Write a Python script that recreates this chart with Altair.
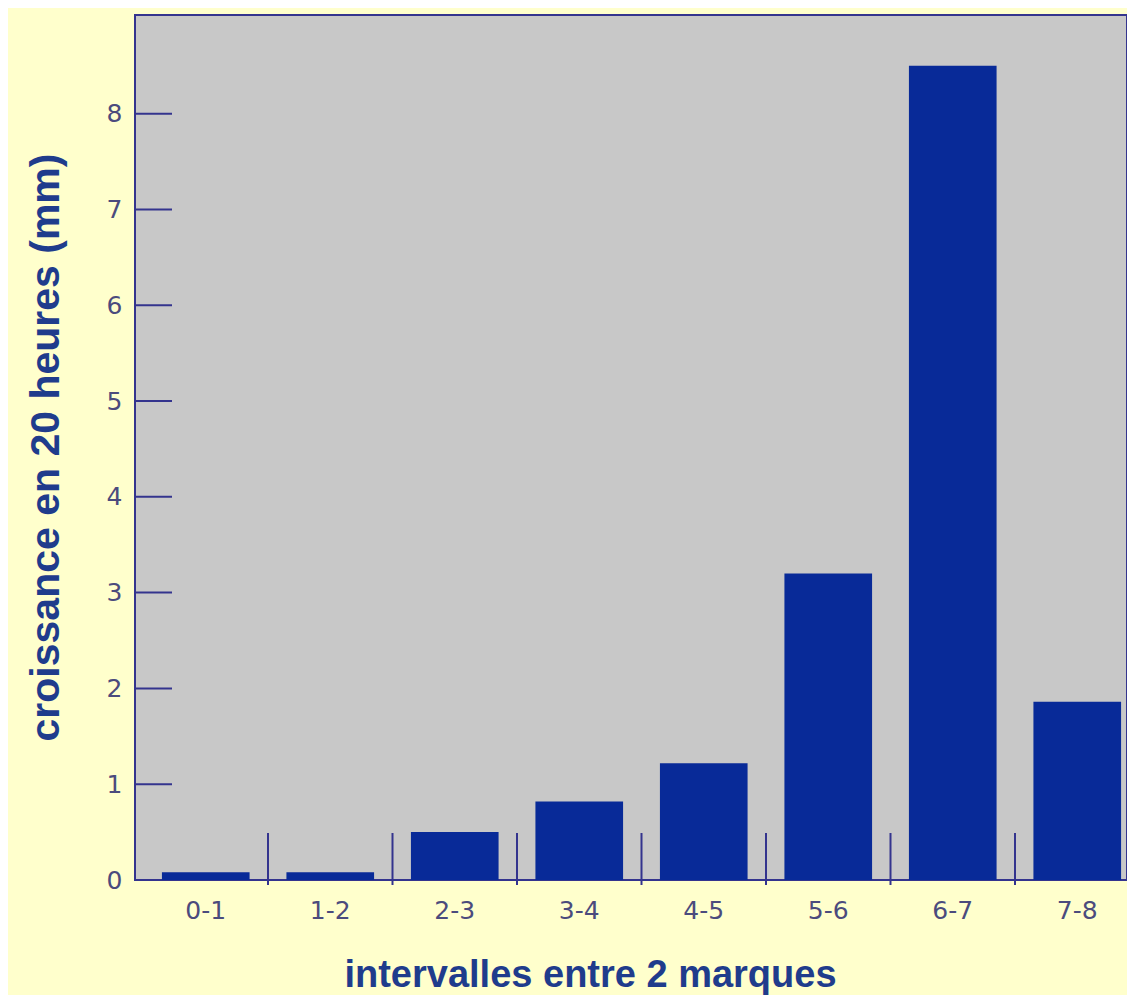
import altair as alt
import pandas as pd

# ---- data ----
categories = ["0-1", "1-2", "2-3", "3-4", "4-5", "5-6", "6-7", "7-8"]
values = [0.08, 0.08, 0.5, 0.82, 1.22, 3.2, 8.5, 1.86]
y_tick_values = [0, 1, 2, 3, 4, 5, 6, 7, 8]
x_title = "intervalles entre 2 marques"
y_title = "croissance en 20 heures (mm)"

bars_df = pd.DataFrame({"intervalle": categories, "croissance": values})
sep_df = pd.DataFrame({"intervalle": categories[1:]})
tick_df = pd.DataFrame({"v": y_tick_values[1:]})

# ---- style ----
BG = "#FFFFCC"
PLOT = "#C8C8C8"
BAR = "#082A98"
AX = "#34348E"
LBL = "#4B4B7D"
TTL = "#1F3C8C"

W, H = 992, 865
x_range = [8.5, 1004.5]
y_scale = alt.Scale(domain=[0, 9.03], nice=False, zero=True)

bars = alt.Chart(bars_df).mark_bar(color=BAR).encode(
    x=alt.X(
        "intervalle:N",
        sort=categories,
        scale=alt.Scale(range=x_range, paddingInner=0.296, paddingOuter=0.148),
        axis=alt.Axis(
            title=x_title,
            labelAngle=0,
            ticks=False,
            tickSize=0,
            domain=False,
            grid=False,
            labelFont="DejaVu Sans",
            labelFontSize=25,
            labelColor=LBL,
            labelPadding=18,
            titleFont="Liberation Sans",
            titleFontWeight="bold",
            titleFontSize=38,
            titleColor=TTL,
            titleX=455,
            titleY=106,
            titleAlign="center",
            titleBaseline="alphabetic",
        ),
    ),
    y=alt.Y(
        "croissance:Q",
        scale=y_scale,
        axis=alt.Axis(
            title=y_title,
            values=y_tick_values,
            format="d",
            ticks=False,
            tickSize=0,
            domain=False,
            grid=False,
            labelFont="DejaVu Sans",
            labelFontSize=25,
            labelColor=LBL,
            labelPadding=13,
            titleFont="Liberation Sans",
            titleFontWeight="bold",
            titleFontSize=41,
            titleColor=TTL,
            titleAngle=270,
            titleX=-77,
            titleY=432,
            titleAlign="center",
            titleBaseline="alphabetic",
        ),
    ),
)

seps = alt.Chart(sep_df).mark_rule(color=AX, strokeWidth=2).encode(
    x=alt.X(
        "intervalle:N",
        sort=categories,
        scale=alt.Scale(domain=categories, range=x_range, paddingInner=0, paddingOuter=0),
        axis=None,
        bandPosition=0,
    ),
    y=alt.value(H - 47),
    y2=alt.value(H + 5),
)

yticks = alt.Chart(tick_df).mark_rule(color=AX, strokeWidth=2).encode(
    y=alt.Y("v:Q", scale=y_scale, axis=None),
    x=alt.value(0),
    x2=alt.value(37),
)

chart = (
    alt.layer(bars, seps, yticks)
    .resolve_scale(x="independent", y="independent")
    .properties(
        width=W,
        height=H,
        padding={"left": 127, "top": 7, "right": 0, "bottom": 115},
        autosize="none",
        background=BG,
    )
    .configure_view(fill=PLOT, stroke=AX, strokeWidth=2)
)

chart.save("out.html", embed_options={"renderer": "svg", "actions": False})
